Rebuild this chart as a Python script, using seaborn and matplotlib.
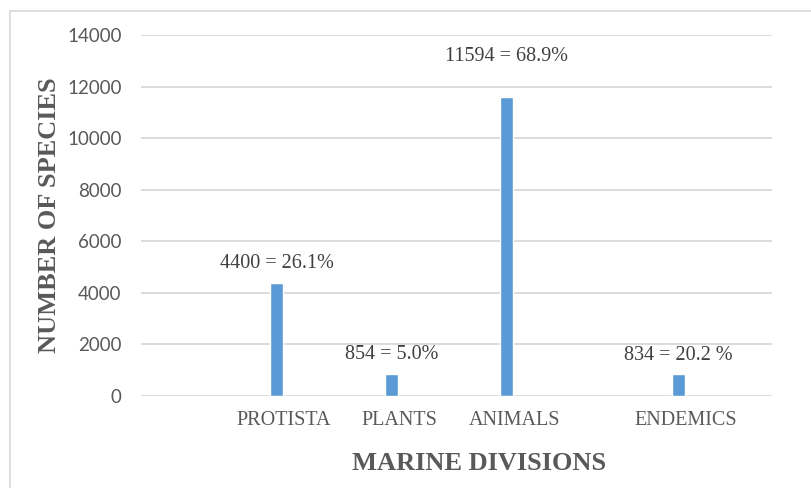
import matplotlib
matplotlib.use("Agg")
import matplotlib.pyplot as plt
from matplotlib.patches import Rectangle
import seaborn as sns
import pandas as pd

# Data
divisions = ["PROTISTA", "PLANTS", "ANIMALS", "ENDEMICS"]
species = [4400, 854, 11594, 834]
labels = ["4400 = 26.1%", "854 = 5.0%", "11594 = 68.9%", "834 = 20.2 %"]
y_ticks = [0, 2000, 4000, 6000, 8000, 10000, 12000, 14000]

# Layout: bar slots along the x axis and label lift above each bar (points)
slots = [1.18, 2.18, 3.18, 4.67]
tick_shift = 0.065
label_lift = [14, 14, 29.5, 14]

sns.set_style("white")
plt.rcParams["font.family"] = ["Liberation Serif", "DejaVu Serif"]

df = pd.DataFrame({"slot": slots, "species": species, "division": divisions})

fig = plt.figure(figsize=(8.12, 4.88), dpi=100)
ax = fig.add_axes([141 / 812, 1 - 396 / 488, 631 / 812, 361 / 488])

sns.barplot(data=df, x="slot", y="species", native_scale=True, width=0.113,
            color="#5B9BD5", saturation=1, ax=ax, zorder=3)

ax.set_xlim(0, 631 / 115)
ax.set_ylim(0, 14000)
ax.set_yticks(y_ticks)
ax.set_yticklabels([str(v) for v in y_ticks], family="Lato", fontsize=13.5,
                   color="#595959")
ax.set_xticks([s + tick_shift for s in slots])
ax.set_xticklabels(divisions, fontsize=14.5, color="#595959")
ax.tick_params(axis="y", length=0, pad=14)
ax.tick_params(axis="x", length=0, pad=11)

ax.yaxis.grid(True, color="#d9d9d9", linewidth=1.3, zorder=0)
ax.xaxis.grid(False)
for sp in ax.spines.values():
    sp.set_visible(False)

for s, v, t, lift in zip(slots, species, labels, label_lift):
    ax.annotate(t, (s, v), xytext=(0, lift), textcoords="offset points",
                ha="center", va="center", fontsize=14.5, color="#404040")

ax.set_xlabel("MARINE DIVISIONS", fontsize=19, fontweight="bold",
              color="#595959")
ax.xaxis.set_label_coords((479.5 - 141) / 631, -67 / 361)
ax.xaxis.label.set_va("center")
ax.set_ylabel("NUMBER OF SPECIES", fontsize=19, fontweight="bold",
              color="#595959")
ax.yaxis.set_label_coords((49 - 141) / 631, 0.5)
ax.yaxis.label.set_va("center")

# Outer chart frame
fig.add_artist(Rectangle((10 / 812, -0.2), 1.2, 1.2 - 11 / 488,
                         transform=fig.transFigure, fill=False,
                         edgecolor="#d9d9d9", linewidth=1.2))

fig.savefig("out.png", dpi=100)
